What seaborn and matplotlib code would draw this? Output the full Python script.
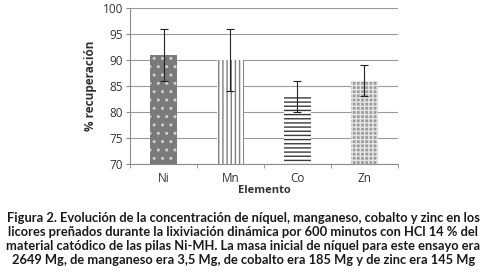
import matplotlib
matplotlib.use("Agg")
import matplotlib.pyplot as plt
import seaborn as sns
import pandas as pd

elementos = ["Ni", "Mn", "Co", "Zn"]
recuperacion = [91, 90, 83, 86]
error_bajo = [5, 6, 3, 3]
error_alto = [5, 6, 3, 3]

caption = ("Figura 2. Evolución de la concentración de níquel, manganeso, cobalto y zinc en los\n"
           "licores preñados durante la lixiviación dinámica por 600 minutos con HCl 14 % del\n"
           "material catódico de las pilas Ni-MH. La masa inicial de níquel para este ensayo era\n"
           "2649 Mg, de manganeso era 3,5 Mg, de cobalto era 185 Mg y de zinc era 145 Mg")

sns.set_style("white")
plt.rcParams['font.family'] = ['Open Sans', 'DejaVu Sans']
plt.rcParams['hatch.linewidth'] = 1.0

df = pd.DataFrame({"Elemento": elementos, "rec": recuperacion})

fig = plt.figure(figsize=(4.87, 2.76), dpi=100)
ax = fig.add_axes([0.267, 0.406, 0.55, 0.565])
sns.barplot(data=df, x="Elemento", y="rec", ax=ax, width=0.4, errorbar=None,
            color="#808080", zorder=3)

styles = [("#7a7a7a", "#d0d0d0", ".."),
          ("white", "#7f7f7f", "||||"),
          ("white", "#3a3a3a", "----"),
          ("#9c9c9c", "#e6e6e6", "++++")]
for p, (fc, ec, h) in zip(ax.patches, styles):
    p.set_facecolor(fc)
    p.set_edgecolor(ec)
    p.set_hatch(h)
    p.set_linewidth(0)

ax.errorbar(range(len(elementos)), recuperacion, yerr=[error_bajo, error_alto],
            fmt="none", ecolor="#222222", elinewidth=0.8, capsize=3, capthick=0.8, zorder=4)

ax.set_ylim(70, 100)
ax.set_yticks(range(70, 101, 5))
ax.set_xlim(-0.5, 3.5)
ax.yaxis.grid(True, color="#9a9a9a", linewidth=0.8, zorder=0)
ax.set_axisbelow(True)
for s in ["top", "right"]:
    ax.spines[s].set_visible(False)
for s in ["left", "bottom"]:
    ax.spines[s].set_color("#8c8c8c")
    ax.spines[s].set_linewidth(0.8)

ax.set_xticks([-0.5, 0.5, 1.5, 2.5, 3.5], minor=True)
ax.tick_params(axis="x", which="minor", length=3, color="#8c8c8c", direction="out", bottom=True)
ax.tick_params(axis="x", which="major", length=0, labelsize=8.5, labelcolor="#333333", pad=6)
ax.tick_params(axis="y", length=3, color="#8c8c8c", direction="out", left=True,
               labelsize=8.5, labelcolor="#333333", pad=2)

ax.set_xlabel("Elemento", fontsize=8, fontweight="bold", color="#333333", labelpad=0)
ax.set_ylabel("% recuperación", fontsize=8.5, fontweight="bold", color="#333333", labelpad=4)

fig.text(0.5, 0.133, caption, ha="center", va="center", fontsize=9.3,
         fontweight="bold", family=["Lato", "DejaVu Sans"], color="#1a1a1a",
         linespacing=1.2)

fig.savefig("out.png", dpi=100)
